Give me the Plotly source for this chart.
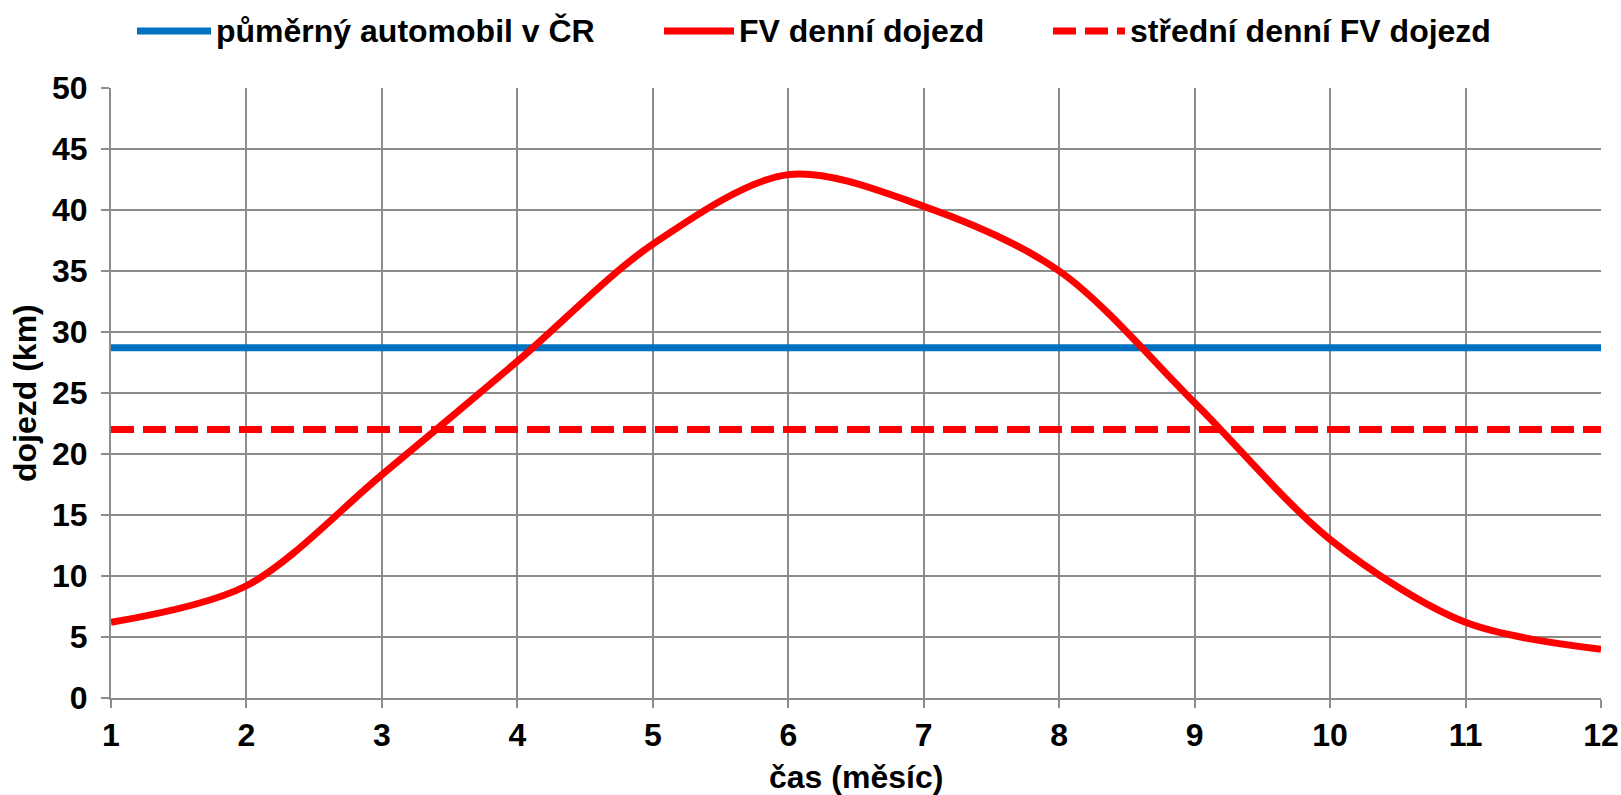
import plotly.graph_objects as go

# Monthly data (month index 1..12)
months = [1, 2, 3, 4, 5, 6, 7, 8, 9, 10, 11, 12]
fv_daily_range = [6.2, 9.2, 18.3, 27.6, 37.2, 42.9, 40.3, 35.0, 24.2, 13.0, 6.2, 4.0]
avg_car_cz = [28.7] * 12
fv_mean_range = [22.0] * 12

series_names = ["půměrný automobil v ČR", "FV denní dojezd", "střední denní FV dojezd"]
x_ticks = list(range(1, 13))
y_ticks = list(range(0, 55, 5))

FONT = "Liberation Sans, Arial, sans-serif"
FS = 32
GRID = "#8c8c8c"
BLUE = "#0070c0"
RED = "#ff0000"
LW = 7
DASH = "23px,9px"

W, H = 1621, 795
ML, MR, MT, MB = 111, 20, 88, 97
PW, PH = W - ML - MR, H - MT - MB


def px_x(px):
    """Pixel x in the page -> paper x."""
    return (px - ML) / PW


def px_y(py):
    """Pixel y in the page -> paper y."""
    return (H - MB - py) / PH


fig = go.Figure()

fig.add_trace(go.Scatter(
    x=months, y=avg_car_cz, mode="lines", name=series_names[0],
    line=dict(color=BLUE, width=LW),
))
fig.add_trace(go.Scatter(
    x=months, y=fv_daily_range, mode="lines", name=series_names[1],
    line=dict(color=RED, width=LW, shape="spline", smoothing=0.9),
))
fig.add_trace(go.Scatter(
    x=months, y=fv_mean_range, mode="lines", name=series_names[2],
    line=dict(color=RED, width=LW, dash=DASH),
))

axis_common = dict(
    showgrid=True, gridcolor=GRID, gridwidth=2,
    showline=True, linecolor=GRID, linewidth=2,
    ticks="outside", ticklen=8, tickwidth=2, tickcolor=GRID,
    tickfont=dict(family=FONT, size=FS, color="black"),
    zeroline=False, automargin=False,
)

fig.update_layout(
    width=W, height=H,
    margin=dict(l=ML, r=MR, t=MT, b=MB),
    paper_bgcolor="white", plot_bgcolor="white",
    font=dict(family=FONT, size=FS, color="black"),
    showlegend=False,
    xaxis=dict(range=[1, 12], tickvals=x_ticks,
               ticktext=[f"<b>{v}</b>" for v in x_ticks], **axis_common),
    yaxis=dict(range=[0, 50], tickvals=y_ticks,
               ticktext=[f"<b>{v}</b>" for v in y_ticks],
               ticklabelstandoff=7, **axis_common),
)

# Axis titles
fig.add_annotation(text="<b>čas (měsíc)</b>", xref="paper", yref="paper",
                   x=0.5, y=px_y(777), xanchor="center", yanchor="middle",
                   showarrow=False, font=dict(family=FONT, size=FS))
fig.add_annotation(text="<b>dojezd (km)</b>", xref="paper", yref="paper",
                   x=px_x(25), y=0.5, xanchor="center", yanchor="middle",
                   textangle=-90, showarrow=False, font=dict(family=FONT, size=FS))

# Legend row above the plot
legend_y = 31
legend_items = [
    (series_names[0], BLUE, "solid", 137, 211),
    (series_names[1], RED, "solid", 664, 734),
    (series_names[2], RED, DASH, 1053, 1125),
]
for name, color, dash, x0, x1 in legend_items:
    fig.add_shape(type="line", xref="paper", yref="paper",
                  x0=px_x(x0), x1=px_x(x1), y0=px_y(legend_y), y1=px_y(legend_y),
                  line=dict(color=color, width=LW, dash=dash))
    fig.add_annotation(text=f"<b>{name}</b>", xref="paper", yref="paper",
                       x=px_x(x1 + 3), y=px_y(legend_y), xanchor="left", yanchor="middle",
                       showarrow=False, font=dict(family=FONT, size=FS))

fig.write_html("out.html")
